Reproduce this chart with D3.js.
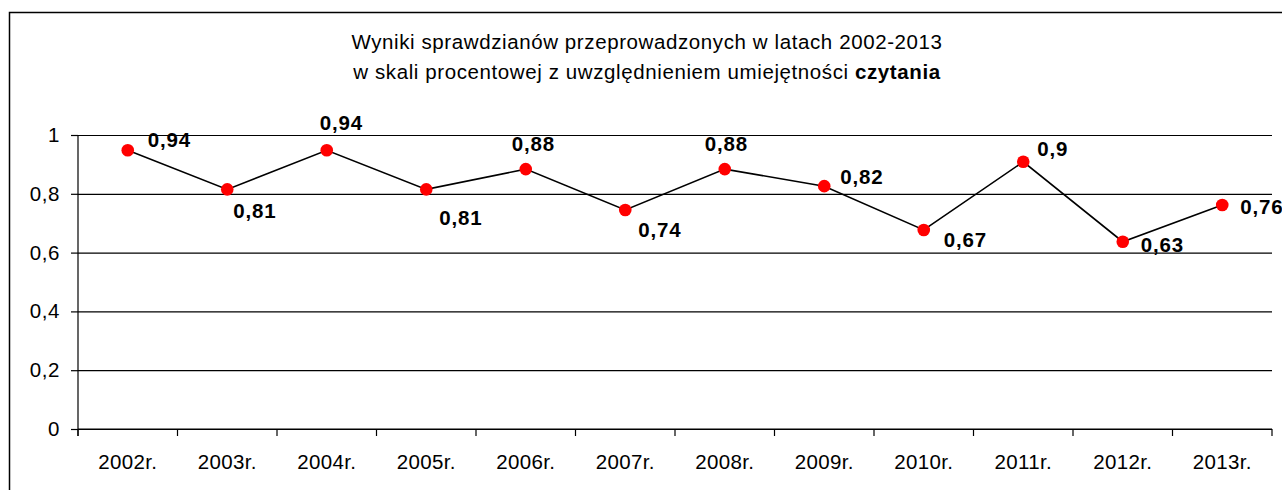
<!DOCTYPE html>
<html>
<head>
<meta charset="utf-8">
<script src="https://cdn.jsdelivr.net/npm/d3@7"></script>
<style>
  body { margin: 0; background: #fff; }
  svg { display: block; font-family: "Liberation Sans", Arial, sans-serif; }
</style>
</head>
<body>
<svg id="chart" width="1282" height="490"></svg>
<script>
// data
const years = ['2002r.', '2003r.', '2004r.', '2005r.', '2006r.', '2007r.', '2008r.', '2009r.', '2010r.', '2011r.', '2012r.', '2013r.'];
const scores = [0.948, 0.815, 0.948, 0.815, 0.884, 0.745, 0.884, 0.826, 0.677, 0.909, 0.637, 0.762];
const scoreLabels = ['0,94', '0,81', '0,94', '0,81', '0,88', '0,74', '0,88', '0,82', '0,67', '0,9', '0,63', '0,76'];
const yTicks = [0, 0.2, 0.4, 0.6, 0.8, 1];

// label placement relative to each point (dx to left edge, dy to middle)
const labelOffsets = [[20, -11], [6, 21], [-7, -28], [13, 28], [-14, -26], [13, 20],
                      [-20, -26], [16, -10], [20, 10], [14, -13], [18, 3], [18, 2]];

const dims = {left: 78, right: 1272, top: 135, bottom: 429};

const svg = d3.select('#chart');

// outer frame
svg.append('rect')
   .attr('x', 9.5).attr('y', 12.5)
   .attr('width', 1320).attr('height', 520)
   .attr('fill', 'none')
   .attr('stroke', '#000')
   .attr('stroke-width', 1.5);

// title
const title = svg.append('text')
   .attr('x', 647)
   .attr('text-anchor', 'middle')
   .attr('font-size', 20.5)
   .attr('letter-spacing', 0.6)
   .attr('fill', '#000');
title.append('tspan').attr('x', 647).attr('y', 49)
     .text('Wyniki sprawdzianów przeprowadzonych w latach 2002-2013');
const line2 = title.append('tspan').attr('x', 647).attr('y', 79);
line2.append('tspan').text('w skali procentowej z uwzględnieniem umiejętności ');
line2.append('tspan').attr('font-weight', 'bold').text('czytania');

const xScale = d3.scaleBand()
                 .domain(years)
                 .range([dims.left, dims.right])
                 .padding(0);
const yScale = d3.scaleLinear()
                 .domain([0, 1])
                 .range([dims.bottom, dims.top]);

// y axis with gridlines
const yAxis = d3.axisLeft(yScale)
                .tickValues(yTicks)
                .tickSize(-(dims.right - dims.left))
                .tickPadding(18)
                .tickFormat(d => String(d).replace('.', ','));
const yAxisGroup = svg.append('g')
                      .attr('transform', `translate(${dims.left},0)`)
                      .call(yAxis);
yAxisGroup.select('.domain').remove();
yAxisGroup.selectAll('line').attr('stroke', '#000').attr('stroke-width', 1.2);
yAxisGroup.selectAll('text')
          .attr('font-size', 20.5)
          .attr('letter-spacing', 0.6)
          .attr('font-family', '"Liberation Sans", Arial, sans-serif')
          .attr('fill', '#000');
// small outer ticks on the left
yAxisGroup.selectAll('.tick')
          .append('line')
          .attr('x1', -7).attr('x2', 0)
          .attr('stroke', '#000').attr('stroke-width', 1.2);

// axis lines
svg.append('line')
   .attr('x1', dims.left).attr('x2', dims.left)
   .attr('y1', dims.top).attr('y2', dims.bottom + 7)
   .attr('stroke', '#000').attr('stroke-width', 1.2);
svg.append('line')
   .attr('x1', dims.left).attr('x2', dims.right)
   .attr('y1', dims.bottom).attr('y2', dims.bottom)
   .attr('stroke', '#000').attr('stroke-width', 1.2);

// x ticks at category boundaries
const boundaries = years.map(y => xScale(y)).concat([xScale(years[years.length - 1]) + xScale.bandwidth()]);
svg.append('g').selectAll('line')
   .data(boundaries)
   .enter()
   .append('line')
   .attr('x1', d => d).attr('x2', d => d)
   .attr('y1', dims.bottom).attr('y2', dims.bottom + 7)
   .attr('stroke', '#000').attr('stroke-width', 1.2);

// x labels
svg.append('g').selectAll('text')
   .data(years)
   .enter()
   .append('text')
   .attr('x', d => xScale(d) + xScale.bandwidth() / 2)
   .attr('y', 469)
   .attr('text-anchor', 'middle')
   .attr('font-size', 20.5)
   .attr('letter-spacing', 0.3)
   .attr('fill', '#000')
   .text(d => d);

const points = years.map((y, i) => ({year: y, value: scores[i], label: scoreLabels[i], off: labelOffsets[i]}));
const cx = d => xScale(d.year) + xScale.bandwidth() / 2;

// Draw the line
const line = d3.line()
               .x(cx)
               .y(d => yScale(d.value));
svg.append('path')
   .datum(points)
   .attr('fill', 'none')
   .attr('stroke', '#000')
   .attr('stroke-width', 1.6)
   .attr('d', line);

svg.append('g').selectAll('circle')
   .data(points)
   .enter()
   .append('circle')
   .attr('cx', cx)
   .attr('cy', d => yScale(d.value))
   .attr('r', 6.3)
   .attr('fill', '#ff0000');

svg.append('g').selectAll('text')
   .data(points)
   .enter()
   .append('text')
   .attr('x', d => cx(d) + d.off[0])
   .attr('y', d => yScale(d.value) + d.off[1] + 7.5)
   .attr('font-size', 20.5)
   .attr('font-weight', 'bold')
   .attr('letter-spacing', 0.8)
   .attr('fill', '#000')
   .text(d => d.label);
</script>
</body>
</html>
